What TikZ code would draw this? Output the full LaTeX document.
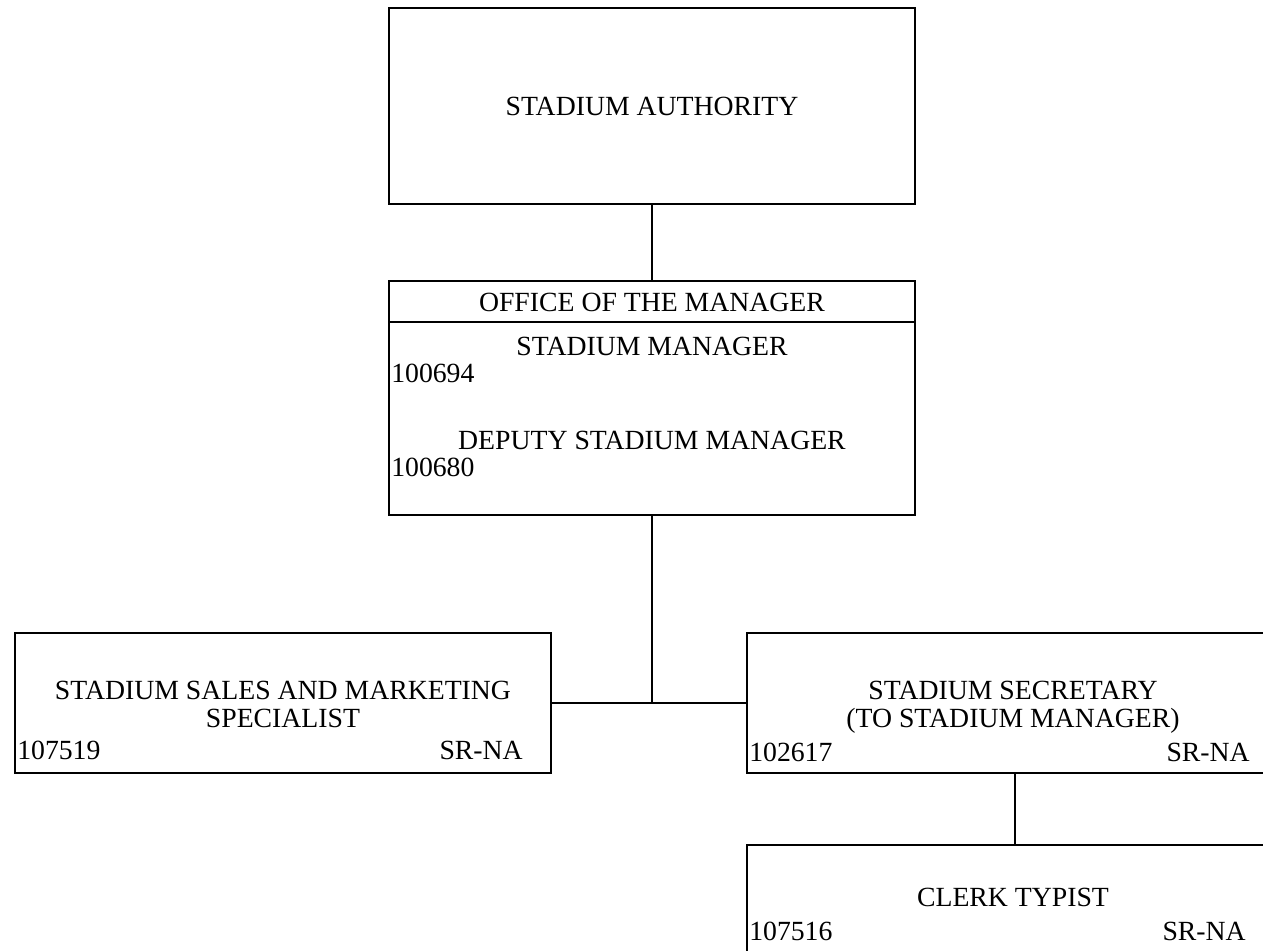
\documentclass[tikz,border=0pt]{standalone}
\usepackage{fontspec}
\setmainfont{Liberation Serif}
\begin{document}
\begin{tikzpicture}[x=0.75pt,y=-0.75pt,
  box/.style={draw=black,line width=1pt,rectangle,inner sep=0pt},
  txt/.style={inner sep=0pt,font=\fontsize{20.8}{21}\selectfont,align=center},
  lbl/.style={inner sep=0pt,font=\fontsize{20.8}{21}\selectfont},
  link/.style={draw=black,line width=1pt}]
\useasboundingbox (0,0) rectangle (1263,950);
\clip (0,0) rectangle (1263,950);
% boxes
\node[box,minimum width=526*0.75pt,minimum height=196*0.75pt] (auth) at (652,106) {};
\node[box,minimum width=526*0.75pt,minimum height=234*0.75pt] (office) at (652,398) {};
\node[box,minimum width=536*0.75pt,minimum height=140*0.75pt] (sales) at (283,703) {};
\node[box,minimum width=532*0.75pt,minimum height=140*0.75pt] (sec) at (1013,703) {};
\node[box,minimum width=532*0.75pt,minimum height=200*0.75pt] (clerk) at (1013,945) {};
% header divider
\coordinate (hdl) at (389,322);
\coordinate (hdr) at (915,322);
\draw[link] (hdl) -- (hdr);
% texts
\node[txt] (authT) at (652,106) {STADIUM AUTHORITY};
\node[txt] (offT) at (652,302) {OFFICE OF THE MANAGER};
\node[txt] (smT) at (652,346) {STADIUM MANAGER};
\node[lbl,anchor=west] (smN) at (391,373) {100694};
\node[txt] (dsmT) at (652,440) {DEPUTY STADIUM MANAGER};
\node[lbl,anchor=west] (dsmN) at (391,467) {100680};
\node[txt] (salesT) at (283,704) {STADIUM SALES AND MARKETING\\SPECIALIST};
\node[lbl,anchor=west] (salesN) at (17,750) {107519};
\node[lbl,anchor=east] (salesG) at (523,750) {SR-NA};
\node[txt] (secT) at (1013,707) {STADIUM SECRETARY\\(TO STADIUM MANAGER)};
\node[lbl,anchor=west] (secN) at (749,752) {102617};
\node[lbl,anchor=east] (secG) at (1250,752) {SR-NA};
\node[txt] (clerkT) at (1013,897) {CLERK TYPIST};
\node[lbl,anchor=west] (clerkN) at (749,931) {107516};
\node[lbl,anchor=east] (clerkG) at (1246,931) {SR-NA};
% connectors
\draw[link] (auth.south) -- (office.north);
\draw[link] (office.south) -- (office.south |- sales.east);
\draw[link] (sales.east) -- (sec.west);
\draw[link] (sec.south -| 1015,0) -- (clerk.north -| 1015,0);
\end{tikzpicture}
\end{document}
